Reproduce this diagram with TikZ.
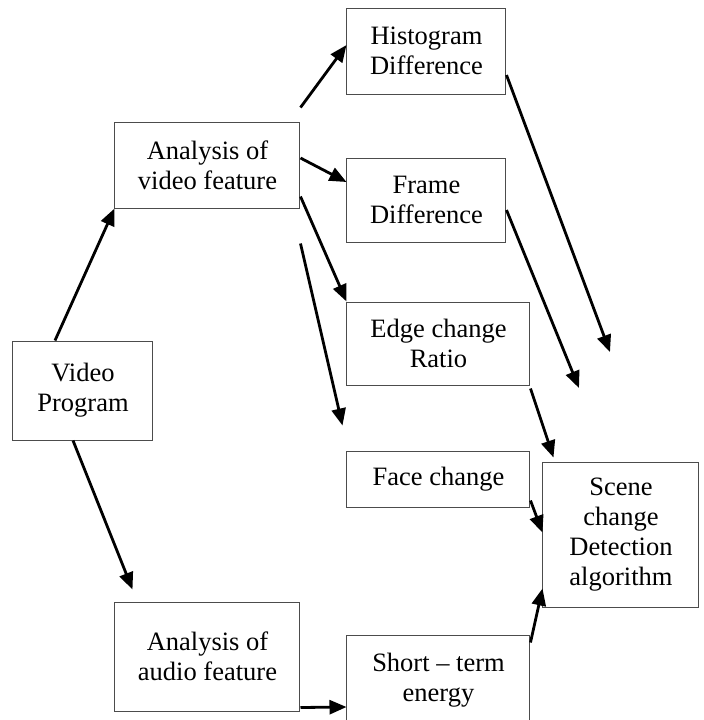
\documentclass[tikz,border=0pt]{standalone}
\usepackage{fontspec}
\setmainfont{Liberation Serif}
\usetikzlibrary{arrows.meta, calc}
\tikzset{
  fbox/.style={draw=black!70, line width=0.5pt, align=center, inner sep=0pt,
               font=\fontsize{13.25}{15}\selectfont},
  arr/.style={-{Triangle[length=8.5pt, width=7pt]}, line width=1.4pt, black},
}
\begin{document}
\begin{tikzpicture}[x=0.5pt, y=-0.5pt]
    \useasboundingbox (0,0) rectangle (704,720);
    \node[fbox, minimum width=70pt, minimum height=49.5pt] (vp) at (83, 390.5) {Video\\Program};
    \node[fbox, minimum width=92.5pt, minimum height=43pt] (av) at (207.5, 165) {Analysis of\\video feature};
    \node[fbox, minimum width=92.5pt, minimum height=54.5pt] (aa) at (207.5, 656.5) {Analysis of\\audio feature};
    \node[fbox, minimum width=79.5pt, minimum height=43pt] (hd) at (426.5, 51) {Histogram\\Difference};
    \node[fbox, minimum width=79.5pt, minimum height=42pt] (fd) at (426.5, 200) {Frame\\Difference};
    \node[fbox, minimum width=91.5pt, minimum height=41.5pt] (ec) at (438.5, 343.5) {Edge change\\Ratio};
    \node[fbox, minimum width=91.5pt, minimum height=28pt] (fc) at (438.5, 479) {Face change};
    \node[fbox, minimum width=91.5pt, minimum height=45pt] (se) at (438.5, 680) {Short -- term\\energy};
    \node[fbox, minimum width=78pt, minimum height=72.5pt] (sc) at (621, 534.5) {Scene\\change\\Detection\\algorithm};

    % free ends
    \coordinate (aatip) at ($(aa.north west)+(18,-12)$);
    \coordinate (facefrom) at ($(av.south east)+(0,35)$);
    \coordinate (facetip) at ($(fc.north west)+(-4,-25)$);
    \coordinate (hdtip) at (610, 352);
    \coordinate (fdtip) at (579, 388);

    \draw[arr] ($(vp.north)+(-28,0)$) -- (av.south west);
    \draw[arr] ($(vp.south)+(-10,0)$) -- (aatip);
    \draw[arr] ($(av.north east)+(0,-14)$) -- ($(hd.west)+(0,-6)$);
    \draw[arr] ($(av.east)+(0,-7)$) -- ($(fd.west)+(0,-18)$);
    \draw[arr] ($(av.south east)+(0,-12)$) -- (ec.north west);
    \draw[arr] (facefrom) -- (facetip);
    \draw[arr] ($(hd.east)+(0,24)$) -- (hdtip);
    \draw[arr] ($(fd.east)+(0,10)$) -- (fdtip);
    \draw[arr] ($(ec.south east)+(0,3)$) -- ($(sc.north west)+(11,-4)$);
    \draw[arr] ($(fc.south east)+(0,-7)$) -- ($(sc.west)+(0,-2)$);
    \draw[arr] ($(se.north east)+(0,8)$) -- ($(sc.south west)+(0,-19)$);
    \draw[arr] ($(aa.south east)+(0,-4)$) -- ($(se.west)+(0,27)$);
  \end{tikzpicture}
\end{document}
